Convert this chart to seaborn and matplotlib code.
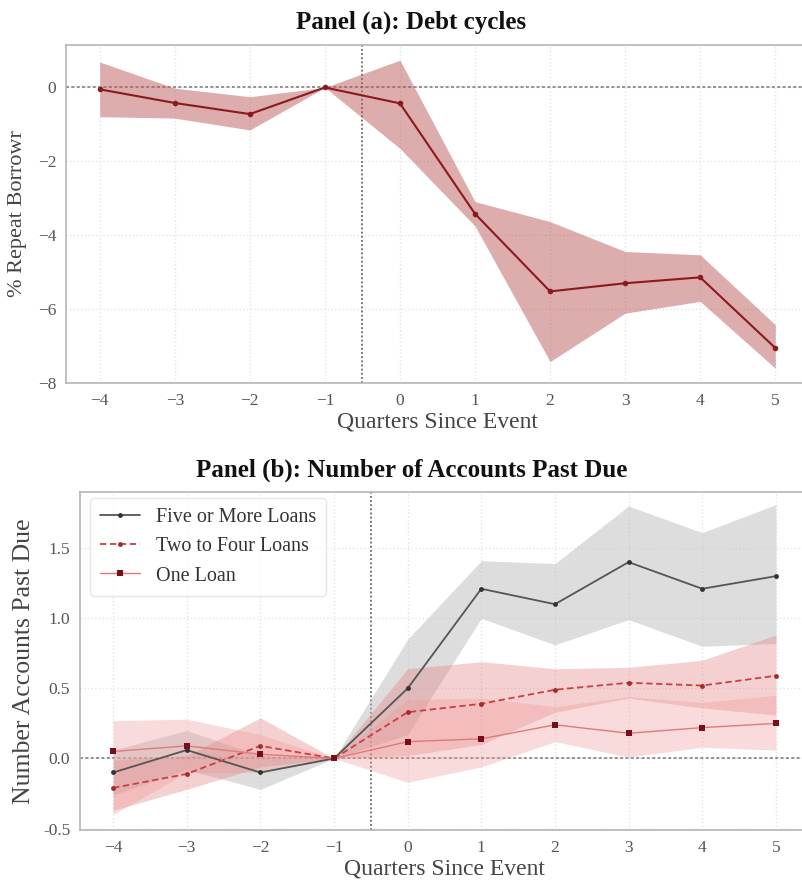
import matplotlib
matplotlib.use("Agg")
import matplotlib.pyplot as plt
import seaborn as sns
import pandas as pd

# Event-time axis
quarters = [-4, -3, -2, -1, 0, 1, 2, 3, 4, 5]

# Panel (a): repeat borrowing estimates with confidence bounds
repeat_coef = [-0.05, -0.42, -0.72, 0.0, -0.43, -3.42, -5.52, -5.30, -5.14, -7.05]
repeat_lo = [-0.79, -0.83, -1.15, 0.0, -1.65, -3.75, -7.42, -6.11, -5.79, -7.60]
repeat_hi = [0.69, -0.02, -0.25, 0.0, 0.74, -3.09, -3.63, -4.44, -4.53, -6.42]

# Panel (b): accounts past due by number of loans
five_coef = [-0.10, 0.06, -0.10, 0.0, 0.50, 1.21, 1.10, 1.40, 1.21, 1.30]
five_lo = [-0.26, -0.08, -0.22, 0.0, 0.17, 1.00, 0.81, 0.99, 0.80, 0.82]
five_hi = [0.06, 0.20, 0.02, 0.0, 0.85, 1.41, 1.39, 1.80, 1.61, 1.81]

two_coef = [-0.21, -0.11, 0.09, 0.0, 0.33, 0.39, 0.49, 0.54, 0.52, 0.59]
two_lo = [-0.37, -0.22, -0.06, 0.0, 0.02, 0.10, 0.33, 0.43, 0.36, 0.31]
two_hi = [-0.01, 0.02, 0.29, 0.0, 0.64, 0.69, 0.64, 0.65, 0.70, 0.88]

one_coef = [0.05, 0.09, 0.03, 0.0, 0.12, 0.14, 0.24, 0.18, 0.22, 0.25]
one_lo = [-0.40, -0.10, -0.10, 0.0, -0.17, -0.06, 0.12, 0.01, 0.08, 0.06]
one_hi = [0.27, 0.28, 0.17, 0.0, 0.42, 0.43, 0.37, 0.44, 0.40, 0.45]

series_labels = ["Five or More Loans", "Two to Four Loans", "One Loan"]

df_a = pd.DataFrame({"q": quarters, "coef": repeat_coef, "lo": repeat_lo, "hi": repeat_hi})
df_b = pd.DataFrame({
    "q": quarters * 3,
    "coef": five_coef + two_coef + one_coef,
    "lo": five_lo + two_lo + one_lo,
    "hi": five_hi + two_hi + one_hi,
    "group": sum([[lab] * len(quarters) for lab in series_labels], []),
})

sns.set_theme(style="whitegrid")
plt.rcParams["font.family"] = ["Liberation Serif", "DejaVu Serif"]
plt.rcParams["axes.edgecolor"] = "#bbbbbb"
plt.rcParams["grid.color"] = "#e4e4e4"
plt.rcParams["grid.linestyle"] = ":"
plt.rcParams["grid.linewidth"] = 1.0

W, H = 802, 882
fig = plt.figure(figsize=(W / 100, H / 100), dpi=100)

def px_axes(left, right, top, bottom):
    return fig.add_axes([left / W, 1 - bottom / H, (right - left) / W, (bottom - top) / H])

ax_a = px_axes(66, 809, 45, 383)
ax_b = px_axes(80, 809, 492, 830)

tick_color = "#555555"
label_color = "#444444"

def style_axes(ax):
    ax.set_xlim(-4.45, 5.45)
    ax.set_xticks(quarters)
    ax.tick_params(axis="both", which="both", length=4, width=0.8, color="#999999",
                   labelcolor=tick_color, labelsize=12.5, pad=3)
    ax.tick_params(axis="both", direction="out")
    for sp in ax.spines.values():
        sp.set_color("#b5b5b5")
        sp.set_linewidth(1.2)
    ax.spines["right"].set_visible(False)
    ax.axhline(0, color="#777777", linestyle=(0, (2, 1.5)), linewidth=1.1, zorder=1)
    ax.axvline(-0.5, color="#666666", linestyle=(0, (1, 1.3)), linewidth=1.3, zorder=1)
    ax.set_xlabel("Quarters Since Event", fontsize=17, color=label_color, labelpad=2)

# Panel (a)
ax_a.fill_between(df_a["q"], df_a["lo"], df_a["hi"], color="#bd5a5c", alpha=0.5, linewidth=0, zorder=2)
sns.lineplot(data=df_a, x="q", y="coef", ax=ax_a, color="#8b1a1e", linewidth=1.5,
             marker="o", markersize=4, markeredgewidth=0, zorder=3)
style_axes(ax_a)
ax_a.set_ylim(-8, 1.15)
ax_a.set_yticks([0, -2, -4, -6, -8])
ax_a.set_ylabel("% Repeat Borrowr", fontsize=16, color=label_color, labelpad=8)

# Panel (b)
fill_colors = {"Five or More Loans": ("#bdbdbd", 0.5),
               "Two to Four Loans": ("#e07a7a", 0.35),
               "One Loan": ("#f29a9a", 0.35)}
line_styles = {
    "Five or More Loans": dict(color="#555555", linestyle="-", linewidth=1.3, marker="o",
                               markersize=3.5, markerfacecolor="#333333"),
    "Two to Four Loans": dict(color="#c8403f", linestyle=(0, (3.5, 2)), linewidth=1.3, marker="o",
                              markersize=3.5, markerfacecolor="#a52a2a"),
    "One Loan": dict(color="#e07a7a", linestyle="-", linewidth=1.0, marker="s",
                     markersize=5, markerfacecolor="#7a0c1c"),
}
for lab in series_labels:
    sub = df_b[df_b["group"] == lab]
    c, a = fill_colors[lab]
    ax_b.fill_between(sub["q"], sub["lo"], sub["hi"], color=c, alpha=a, linewidth=0, zorder=2)
for lab in series_labels:
    sub = df_b[df_b["group"] == lab]
    kw = line_styles[lab]
    sns.lineplot(data=sub, x="q", y="coef", ax=ax_b, label=lab, markeredgewidth=0, zorder=3, **kw)
style_axes(ax_b)
ax_b.set_ylim(-0.51, 1.9)
ax_b.set_yticks([-0.5, 0.0, 0.5, 1.0, 1.5])
ax_b.set_yticklabels(["-0.5", "0.0", "0.5", "1.0", "1.5"])
ax_b.set_ylabel("Number Accounts Past Due", fontsize=18.5, color=label_color, labelpad=6)
leg = ax_b.legend(loc="upper left", fontsize=14.5, frameon=True, labelspacing=0.5,
                  handlelength=2.0, borderpad=0.5, borderaxespad=0.3,
                  bbox_to_anchor=(0.005, 1.0))
leg.get_frame().set_edgecolor("#e2e2e2")
leg.get_frame().set_linewidth(1.0)
for t in leg.get_texts():
    t.set_color("#333333")

# Panel titles
fig.text(411.5 / W, 1 - 22 / H, "Panel (a): Debt cycles", ha="center", va="center",
         fontsize=18, fontweight="bold", color="#111111")
fig.text(411.5 / W, 1 - 470 / H, "Panel (b): Number of Accounts Past Due", ha="center", va="center",
         fontsize=18, fontweight="bold", color="#111111")

fig.savefig("out.png", dpi=100)
